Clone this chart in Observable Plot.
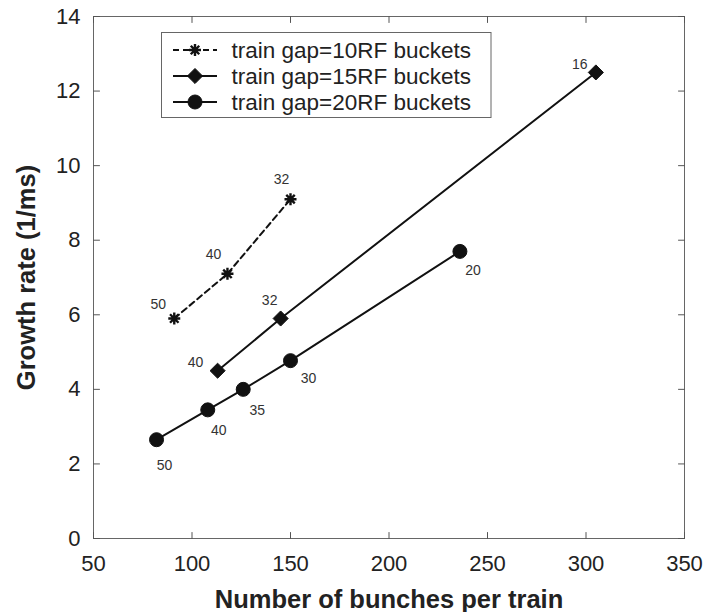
<!DOCTYPE html>
<html>
<head>
<meta charset="utf-8">
<script src="https://cdn.jsdelivr.net/npm/d3@7"></script>
<script src="https://cdn.jsdelivr.net/npm/@observablehq/plot@0.6"></script>
<style>
  html, body { margin: 0; padding: 0; background: #fff; }
  #chart { width: 707px; height: 612px; }
</style>
</head>
<body>
<div id="chart"></div>
<script>
// Growth rate vs. bunches per train, one series per train gap; point labels give the number of trains.
const bunchesGap10 = [91, 118, 150];
const rateGap10 = [5.9, 7.1, 9.1];
const trainsGap10 = [50, 40, 32];

const bunchesGap15 = [113, 145, 305];
const rateGap15 = [4.5, 5.9, 12.5];
const trainsGap15 = [40, 32, 16];

const bunchesGap20 = [82, 108, 126, 150, 236];
const rateGap20 = [2.65, 3.45, 4.0, 4.77, 7.7];
const trainsGap20 = [50, 40, 35, 30, 20];

const seriesNames = ["train gap=10RF buckets", "train gap=15RF buckets", "train gap=20RF buckets"];
const xTicks = [50, 100, 150, 200, 250, 300, 350];
const yTicks = [0, 2, 4, 6, 8, 10, 12, 14];

// label placement (pixel offsets from each point)
const labelOffsets = [
  [[-16, -14], [-14, -19], [-9, -20]],
  [[-22, -8], [-11, -18], [-16, -8]],
  [[8, 26], [11, 21], [14, 21], [18, 18], [13, 19]]
];

const toRows = (xs, ys, ts) => xs.map((x, i) => ({x, y: ys[i], trains: ts[i]}));
const rows10 = toRows(bunchesGap10, rateGap10, trainsGap10);
const rows15 = toRows(bunchesGap15, rateGap15, trainsGap15);
const rows20 = toRows(bunchesGap20, rateGap20, trainsGap20);
const allRows = [rows10, rows15, rows20];

// eight-armed asterisk marker
const asterisk = {
  draw(context, size) {
    const r = Math.sqrt(size / Math.PI);
    const d = r * Math.SQRT1_2;
    context.moveTo(-r, 0); context.lineTo(r, 0);
    context.moveTo(0, -r); context.lineTo(0, r);
    context.moveTo(-d, -d); context.lineTo(d, d);
    context.moveTo(-d, d); context.lineTo(d, -d);
  }
};

// plain stroke for inward tick marks
const tickShape = {
  draw(context, length) {
    context.moveTo(0, 0);
    context.lineTo(0, -length);
  }
};

const ink = "#111";
const markerStyles = [
  {symbol: asterisk, r: 6, fill: "none", stroke: ink, strokeWidth: 2.4},
  {symbol: "diamond2", r: 6.8, fill: ink, stroke: ink, strokeWidth: 1},
  {symbol: "circle", r: 7, fill: ink, stroke: ink, strokeWidth: 1}
];
const lineDash = ["6,4", null, null];

const labelMarks = allRows.flatMap((rows, s) => rows.map((row, i) =>
  Plot.text([row], {
    x: "x", y: "y", text: d => String(d.trains),
    dx: labelOffsets[s][i][0], dy: labelOffsets[s][i][1],
    fontSize: 14, fill: "#333"
  })
));

const tickStyle = {length: 6, shape: tickShape, anchor: "start", stroke: "#555", strokeWidth: 1};
const axisText = {tickSize: 0, stroke: null, fill: "#222", fontSize: 22, label: null};

const chart = Plot.plot({
  width: 707,
  height: 612,
  marginLeft: 93,
  marginRight: 23,
  marginTop: 16,
  marginBottom: 74,
  style: {fontFamily: "'Liberation Sans', Arial, Helvetica, sans-serif", background: "#fff", color: "#222"},
  x: {domain: [50, 350], ticks: xTicks},
  y: {domain: [0, 14], ticks: yTicks},
  marks: [
    Plot.frame({stroke: "#666"}),
    Plot.axisX(xTicks, {...axisText, anchor: "bottom", tickPadding: 17}),
    Plot.axisY(yTicks, {...axisText, anchor: "left", tickPadding: 13}),
    // inward ticks on all four sides
    Plot.vector(xTicks, {x: d => d, frameAnchor: "bottom", rotate: 0, ...tickStyle}),
    Plot.vector(xTicks, {x: d => d, frameAnchor: "top", rotate: 180, ...tickStyle}),
    Plot.vector(yTicks, {y: d => d, frameAnchor: "left", rotate: 90, ...tickStyle}),
    Plot.vector(yTicks, {y: d => d, frameAnchor: "right", rotate: -90, ...tickStyle}),
    ...allRows.map((rows, s) => Plot.line(rows, {
      x: "x", y: "y", stroke: ink, strokeWidth: 2, strokeDasharray: lineDash[s]
    })),
    ...allRows.map((rows, s) => Plot.dot(rows, {x: "x", y: "y", ...markerStyles[s]})),
    ...labelMarks,
    Plot.text(["Number of bunches per train"], {
      frameAnchor: "bottom", dy: 61, text: d => d, fontSize: 25.5, fontWeight: "bold",
      fill: "#222", lineAnchor: "middle"
    }),
    Plot.text(["Growth rate (1/ms)"], {
      frameAnchor: "left", dx: -67, rotate: -90, text: d => d, fontSize: 25.5, fontWeight: "bold",
      fill: "#222", lineAnchor: "middle", textAnchor: "middle"
    })
  ]
});

// legend box in the upper-left of the plot area
const svg = d3.select(chart);
const legend = svg.append("g")
  .attr("font-family", "'Liberation Sans', Arial, Helvetica, sans-serif")
  .attr("text-anchor", "start");
legend.append("rect")
  .attr("x", 161.5).attr("y", 32.5).attr("width", 329.5).attr("height", 85)
  .attr("fill", "#fff").attr("stroke", "#666").attr("stroke-width", 1);
const rowY = [50, 76, 102];
seriesNames.forEach((name, s) => {
  const y = rowY[s];
  legend.append("line")
    .attr("x1", 173).attr("x2", 217).attr("y1", y).attr("y2", y)
    .attr("stroke", ink).attr("stroke-width", 2)
    .attr("stroke-dasharray", lineDash[s]);
  const m = markerStyles[s];
  const type = m.symbol === "circle" ? d3.symbolCircle : m.symbol === "diamond2" ? d3.symbolDiamond2 : m.symbol;
  legend.append("path")
    .attr("transform", `translate(195,${y})`)
    .attr("d", d3.symbol(type, Math.PI * m.r * m.r)())
    .attr("fill", m.fill).attr("stroke", m.stroke).attr("stroke-width", m.strokeWidth);
  legend.append("text")
    .attr("x", 231.5).attr("y", y).attr("dy", "0.35em")
    .attr("text-anchor", "start")
    .attr("font-size", 22.5).attr("fill", "#222")
    .text(name);
});

document.getElementById("chart").appendChild(chart);
</script>
</body>
</html>
